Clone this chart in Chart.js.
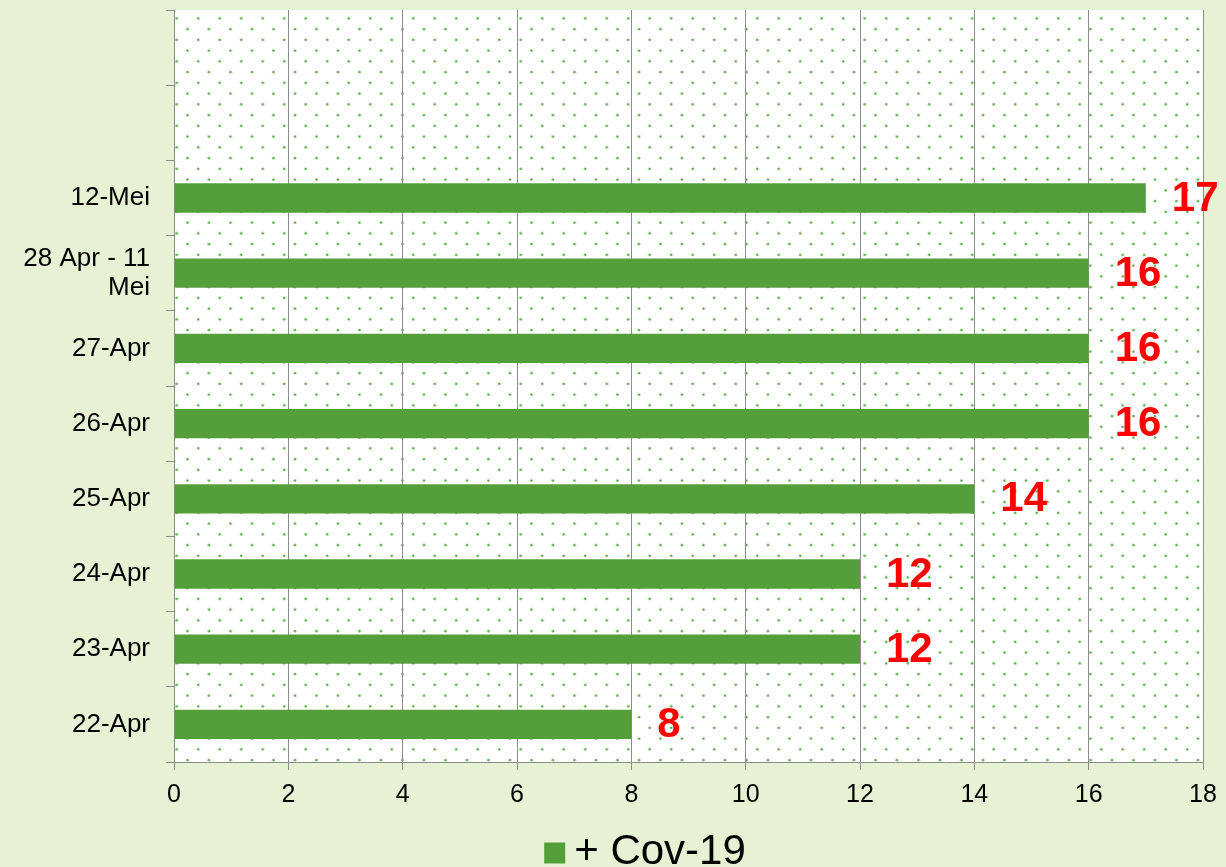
<!DOCTYPE html>
<html>
<head>
<meta charset="utf-8">
<script src="https://cdn.jsdelivr.net/npm/chart.js@4.4.1/dist/chart.umd.min.js"></script>
<style>
    html, body { margin: 0; padding: 0; background: #E7F2D5; }
    #wrap { width: 1226px; height: 867px; }
</style>
</head>
<body>
<div id="wrap"><canvas id="chart" width="1226" height="867"></canvas></div>
<script>
// ========================================
// DATA
// ========================================

const categories = ['22-Apr', '23-Apr', '24-Apr', '25-Apr', '26-Apr', '27-Apr', ['28 Apr - 11', 'Mei'], '12-Mei', '', ''];
const cov19Values = [8, 12, 12, 14, 16, 16, 16, 17, null, null];
const seriesName = '+ Cov-19';
const xMin = 0;
const xMax = 18;
const xStep = 2;

// ========================================
// STYLE
// ========================================

const COLORS = {
    page: '#E7F2D5',
    plot: '#FFFFFF',
    dots: 'rgba(80, 165, 62, 0.95)',
    bar: '#559F3B',
    grid: '#8C8C8C',
    label: '#FF0000',
    text: '#000000'
};

const FONT = '"Liberation Sans", Arial, sans-serif';

Chart.defaults.font.family = FONT;
Chart.defaults.color = COLORS.text;

// dotted fill like the Excel "5%" pattern
function makeDotPattern(ctx) {
    const tile = document.createElement('canvas');
    tile.width = 43;
    tile.height = 43;
    const t = tile.getContext('2d');
    t.fillStyle = COLORS.dots;
    const step = 43 / 4;
    for (let i = 0; i < 4; i++) {
        for (let j = 0; j < 4; j++) {
            if ((i + j) % 2 !== 0) continue;
            t.beginPath();
            t.arc(i * step + 1.5, j * step + 1.5, 1.35, 0, Math.PI * 2);
            t.fill();
        }
    }
    return ctx.createPattern(tile, 'repeat');
}

const plotBackground = {
    id: 'plotBackground',
    beforeDraw(chart) {
        const { ctx, chartArea: { left, top, width, height } } = chart;
        ctx.save();
        ctx.fillStyle = COLORS.page;
        ctx.fillRect(0, 0, chart.width, chart.height);
        ctx.fillStyle = COLORS.plot;
        ctx.fillRect(left, top, width, height);
        ctx.beginPath();
        ctx.rect(left, top, width, height);
        ctx.clip();
        ctx.translate(left + 1.2, top + 6.8);
        ctx.fillStyle = makeDotPattern(ctx);
        ctx.fillRect(-50, -50, width + 100, height + 100);
        ctx.restore();
    }
};

const valueLabels = {
    id: 'valueLabels',
    afterDatasetsDraw(chart) {
        const { ctx } = chart;
        const meta = chart.getDatasetMeta(0);
        ctx.save();
        ctx.font = `bold 42px ${FONT}`;
        ctx.fillStyle = COLORS.label;
        ctx.textAlign = 'left';
        ctx.textBaseline = 'middle';
        meta.data.forEach((bar, i) => {
            const v = cov19Values[i];
            if (v === null) return;
            ctx.fillText(String(v), bar.x + 26, bar.y + 1);
        });
        ctx.restore();
    }
};

const bottomLegend = {
    id: 'bottomLegend',
    afterDraw(chart) {
        const { ctx } = chart;
        const box = 21;
        const gap = 9;
        const centerX = 645;
        const centerY = 852;
        ctx.save();
        ctx.font = `42px ${FONT}`;
        const textW = ctx.measureText(seriesName).width;
        const startX = centerX - (box + gap + textW) / 2;
        ctx.fillStyle = COLORS.bar;
        ctx.fillRect(startX, centerY - box / 2 + 1, box, box);
        ctx.fillStyle = COLORS.text;
        ctx.textAlign = 'left';
        ctx.textBaseline = 'middle';
        ctx.fillText(seriesName, startX + box + gap, centerY);
        ctx.restore();
    }
};

new Chart(document.getElementById('chart').getContext('2d'), {
    type: 'bar',
    data: {
        labels: categories,
        datasets: [{
            label: seriesName,
            data: cov19Values,
            backgroundColor: COLORS.bar,
            borderWidth: 0,
            barPercentage: 0.39,
            categoryPercentage: 1.0
        }]
    },
    options: {
        indexAxis: 'y',
        responsive: false,
        animation: false,
        layout: {
            padding: { top: 10, right: 23, left: 0, bottom: 0 }
        },
        plugins: {
            legend: { display: false },
            tooltip: { enabled: false }
        },
        scales: {
            x: {
                min: xMin,
                max: xMax,
                afterFit(scale) {
                    scale.height = 105;
                    scale.paddingLeft = 0;
                    scale.paddingRight = 0;
                },
                ticks: {
                    stepSize: xStep,
                    padding: 10,
                    color: COLORS.text,
                    font: { size: 25 }
                },
                grid: {
                    color: COLORS.grid,
                    lineWidth: 1,
                    tickLength: 8
                },
                border: { display: true, color: COLORS.grid }
            },
            y: {
                reverse: true,
                afterFit(scale) {
                    scale.width = 174;
                    scale.paddingTop = 0;
                    scale.paddingBottom = 0;
                },
                ticks: {
                    padding: 16,
                    crossAlign: 'near',
                    color: COLORS.text,
                    font: { size: 26, lineHeight: 1.12 }
                },
                grid: {
                    offset: true,
                    drawOnChartArea: false,
                    color: COLORS.grid,
                    tickLength: 8
                },
                border: { display: true, color: COLORS.grid }
            }
        }
    },
    plugins: [plotBackground, valueLabels, bottomLegend]
});
</script>
</body>
</html>
